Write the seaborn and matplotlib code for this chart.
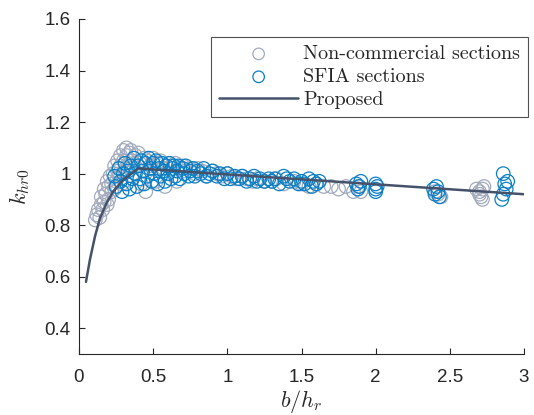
import matplotlib
matplotlib.use("Agg")
import matplotlib.pyplot as plt
import seaborn as sns
from matplotlib.font_manager import FontProperties
from matplotlib.ticker import FuncFormatter

# Non-commercial sections: (b/h_r, k_hr0)
noncom_x = [0.11, 0.12, 0.13, 0.14, 0.15, 0.15, 0.16, 0.17, 0.17, 0.18, 0.19, 0.19, 0.20, 0.20,
            0.21, 0.22, 0.22, 0.23, 0.24, 0.24, 0.25, 0.26, 0.26, 0.27, 0.28, 0.28, 0.29, 0.30,
            0.30, 0.31, 0.32, 0.32, 0.33, 0.34, 0.35, 0.36, 0.36, 0.38, 0.40, 0.41, 0.42, 0.44,
            0.45, 0.46, 0.48, 0.50, 0.52, 0.53, 0.55, 0.57, 0.58, 0.60, 0.62, 0.65, 0.66, 0.68,
            0.70, 0.72, 0.75, 0.78, 0.80, 0.83, 0.86, 0.90, 0.93, 0.96, 1.00, 1.03, 1.06, 1.10,
            1.13, 1.17, 1.20, 1.25, 1.30, 1.33, 1.38, 1.45, 1.50, 1.55, 1.60, 1.65, 1.70, 1.75,
            1.80, 1.85, 1.88, 1.90, 2.40, 2.42, 2.44, 2.68, 2.70, 2.70, 2.71, 2.72, 2.73, 2.72]
noncom_y = [0.82, 0.84, 0.86, 0.83, 0.88, 0.91, 0.86, 0.89, 0.94, 0.92, 0.97, 0.88, 0.90, 0.95,
            0.99, 0.93, 0.96, 1.00, 1.03, 0.94, 0.97, 1.05, 1.01, 0.99, 1.07, 1.03, 0.96, 1.09,
            1.05, 1.01, 1.10, 1.07, 1.03, 1.08, 1.09, 1.05, 0.99, 1.07, 1.08, 1.04, 0.96, 1.06,
            0.93, 1.05, 1.03, 1.06, 0.97, 1.04, 1.05, 1.02, 0.95, 1.04, 1.03, 1.04, 0.97, 1.02,
            1.03, 1.01, 1.02, 1.00, 1.02, 1.01, 0.99, 1.01, 1.00, 0.99, 1.00, 0.99, 0.98, 0.99,
            0.98, 0.97, 0.98, 0.97, 0.97, 0.98, 0.96, 0.97, 0.96, 0.95, 0.96, 0.95, 0.95, 0.94,
            0.95, 0.93, 0.95, 0.93, 0.93, 0.92, 0.91, 0.94, 0.93, 0.92, 0.91, 0.90, 0.95, 0.94]

# SFIA sections
sfia_x = [0.24, 0.25, 0.27, 0.28, 0.29, 0.30, 0.31, 0.32, 0.33, 0.34, 0.35, 0.36, 0.37, 0.38,
          0.39, 0.40, 0.41, 0.42, 0.43, 0.44, 0.45, 0.46, 0.47, 0.48, 0.49, 0.50, 0.51, 0.52,
          0.53, 0.54, 0.55, 0.56, 0.57, 0.58, 0.59, 0.60, 0.61, 0.62, 0.63, 0.64, 0.65, 0.66,
          0.67, 0.68, 0.70, 0.71, 0.72, 0.74, 0.75, 0.77, 0.78, 0.80, 0.82, 0.84, 0.86, 0.88,
          0.90, 0.93, 0.95, 0.98, 1.00, 1.02, 1.05, 1.08, 1.10, 1.13, 1.15, 1.18, 1.20, 1.22,
          1.25, 1.28, 1.30, 1.32, 1.35, 1.38, 1.40, 1.42, 1.45, 1.48, 1.50, 1.52, 1.55, 1.57,
          1.58, 1.60, 1.62, 1.87, 1.88, 1.89, 1.90, 2.00, 2.00, 2.01, 2.00, 2.39, 2.40, 2.41,
          2.42, 2.43, 2.86, 2.87, 2.88, 2.86, 2.85, 2.89]
sfia_y = [0.99, 0.95, 1.02, 0.97, 0.93, 1.00, 1.04, 0.96, 1.01, 0.94, 1.03, 0.98, 1.06, 1.00,
          0.95, 1.03, 0.98, 1.05, 1.01, 0.96, 1.04, 0.99, 1.06, 1.02, 0.97, 1.04, 1.00, 1.05,
          0.96, 1.02, 0.99, 1.04, 1.01, 0.97, 1.03, 1.00, 1.04, 0.98, 1.02, 1.03, 0.99, 1.01,
          1.03, 0.98, 1.02, 1.00, 1.03, 0.99, 1.01, 1.02, 0.99, 1.01, 1.00, 1.02, 0.99, 1.00,
          1.01, 0.99, 1.00, 0.98, 1.00, 0.98, 0.99, 0.98, 0.99, 0.97, 0.98, 0.99, 0.97, 0.98,
          0.97, 0.98, 0.97, 0.98, 0.96, 0.99, 0.98, 0.97, 0.98, 0.96, 0.97, 0.96, 0.98, 0.95,
          0.97, 0.96, 0.97, 0.96, 0.94, 0.95, 0.97, 0.96, 0.94, 0.95, 0.93, 0.94, 0.92, 0.95,
          0.93, 0.91, 1.00, 0.96, 0.94, 0.92, 0.90, 0.97]

# Proposed design curve
prop_x = [0.047, 0.074, 0.108, 0.142, 0.186, 0.231, 0.299, 0.366, 0.40, 3.0]
prop_y = [0.58, 0.667, 0.757, 0.828, 0.886, 0.931, 0.976, 1.005, 1.02, 0.92]

xticks = [0, 0.5, 1, 1.5, 2, 2.5, 3]
yticks = [0.4, 0.6, 0.8, 1.0, 1.2, 1.4, 1.6]

sns.set_style("white")
plt.rcParams["mathtext.fontset"] = "cm"
plt.rcParams["font.family"] = ["Liberation Sans", "DejaVu Sans"]

gray = "#a2aabc"
blue = "#0a7fc6"
line_c = "#46526a"
ink = "#262626"

fig = plt.figure(figsize=(5.34, 4.15), dpi=100)
ax = fig.add_axes([79 / 534, 61 / 415, 445 / 534, 335 / 415])

sns.scatterplot(x=noncom_x, y=noncom_y, marker="o", s=95, facecolors="none",
                edgecolor=gray, linewidth=0.9, ax=ax, label="Non-commercial sections",
                legend=False)
sns.scatterplot(x=sfia_x, y=sfia_y, marker="o", s=95, facecolors="none",
                edgecolor=blue, linewidth=0.9, ax=ax, label="SFIA sections", legend=False)
sns.lineplot(x=prop_x, y=prop_y, color=line_c, linewidth=1.8, ax=ax, label="Proposed",
             legend=False, sort=False)

ax.set_xlim(0, 3)
ax.set_ylim(0.3, 1.6)
ax.set_xticks(xticks)
ax.set_yticks(yticks)
fmt = FuncFormatter(lambda v, p: f"{v:g}")
ax.xaxis.set_major_formatter(fmt)
ax.yaxis.set_major_formatter(fmt)
ax.tick_params(direction="in", length=4, width=0.8, labelsize=13.5, colors=ink,
               bottom=True, left=True)
ax.tick_params(axis="x", pad=11)
ax.tick_params(axis="y", pad=6)
for side in ["top", "right"]:
    ax.spines[side].set_visible(False)
for side in ["left", "bottom"]:
    ax.spines[side].set_color(ink)
    ax.spines[side].set_linewidth(0.8)

ax.set_xlabel(r"$b/h_r$", fontsize=16, color=ink, labelpad=1)
ax.set_ylabel(r"$k_{hr0}$", fontsize=16, color=ink, labelpad=9)

leg = ax.legend(loc="upper right", bbox_to_anchor=(528 / 534, 1 - 37 / 415),
                bbox_transform=fig.transFigure, borderaxespad=0, frameon=True,
                fancybox=False, prop=FontProperties(family="cmr10", size=14.5),
                handlelength=3.9, handletextpad=0.25, labelspacing=0.24,
                borderpad=0.4, markerscale=0.85)
leg.get_frame().set_edgecolor(ink)
leg.get_frame().set_linewidth(0.8)

fig.savefig("out.png", dpi=100)
